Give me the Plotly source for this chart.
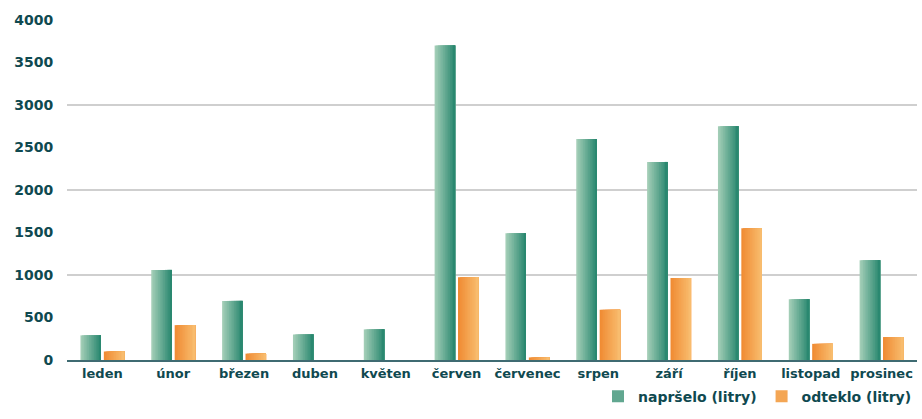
import plotly.graph_objects as go

months = ["leden", "únor", "březen", "duben", "květen", "červen",
          "červenec", "srpen", "září", "říjen", "listopad", "prosinec"]
naprselo = [290, 1060, 695, 300, 360, 3700, 1490, 2600, 2330, 2750, 715, 1175]
odteklo = [100, 410, 75, 0, 0, 975, 30, 590, 965, 1550, 190, 270]
y_ticks = [0, 500, 1000, 1500, 2000, 2500, 3000, 3500, 4000]

TEXT = "#0f4950"
FONT = "DejaVu Sans"

def lerp(c1, c2, t):
    return "rgb(%d,%d,%d)" % tuple(round(a + (b - a) * t) for a, b in zip(c1, c2))

fig = go.Figure()
N = 12
BW = 0.29
series = [
    ("napršelo (litry)", naprselo, -0.31, (162, 205, 182), (42, 136, 112)),
    ("odteklo (litry)", odteklo, 0.02, (240, 140, 52), (248, 188, 110)),
]
for name, vals, base, c1, c2 in series:
    w = BW / N
    for i in range(N):
        fig.add_trace(go.Bar(
            x=months, y=vals, name=name,
            offset=base + i * w,
            width=BW - i * w,
            marker=dict(color=lerp(c1, c2, i / (N - 1)), line=dict(width=0)),
            showlegend=(i == N // 2), legendgroup=name,
            hoverinfo="skip" if i != N // 2 else None,
        ))

# invisible trace to activate the grid axis
fig.add_trace(go.Scatter(x=[months[0]], y=[0], yaxis="y2", mode="markers",
                         marker=dict(opacity=0), showlegend=False, hoverinfo="skip"))

fig.update_layout(
    width=922, height=419,
    margin=dict(l=67, r=5, t=20, b=59),
    plot_bgcolor="white", paper_bgcolor="white",
    barmode="overlay",
    font=dict(family=FONT, color=TEXT, size=14),
    legend=dict(orientation="h", x=1.0, xanchor="right", y=-0.155, yanchor="bottom",
                font=dict(size=14, family=FONT, color=TEXT, weight="bold"),
                itemsizing="constant", traceorder="normal"),
    xaxis=dict(showgrid=False, showline=True, linecolor="#3f6b72", linewidth=2,
               tickfont=dict(size=13, family=FONT, color=TEXT, weight="bold"),
               ticks="", range=[-0.5, 11.5]),
    yaxis=dict(range=[0, 4000], tickvals=y_ticks, showgrid=False, zeroline=False,
               tickfont=dict(size=14, family=FONT, color=TEXT, weight="bold"),
               ticks="outside", ticklen=10, tickcolor="rgba(0,0,0,0)"),
    yaxis2=dict(range=[0, 4000], overlaying="y", dtick=1000, showgrid=True,
                gridcolor="#cfcfcf", gridwidth=1.5, showticklabels=False,
                zeroline=False, side="left"),
)
fig.write_html("out.html")
